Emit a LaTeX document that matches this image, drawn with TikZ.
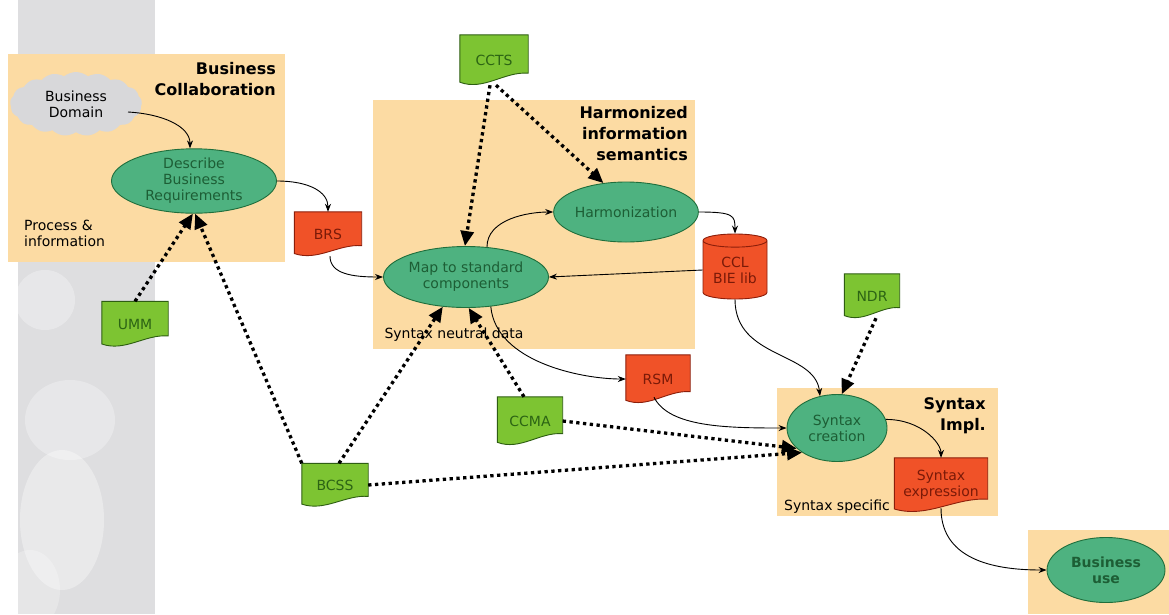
\documentclass[tikz,border=0pt]{standalone}
\usepackage{fontspec}
\setmainfont{DejaVu Sans}
\usetikzlibrary{shapes.geometric,shapes.symbols,arrows.meta}

\pgfdeclarelayer{bg}
\pgfdeclarelayer{docs}
\pgfsetlayers{bg,docs,main}

\definecolor{areafill}{HTML}{FCDBA3}
\definecolor{stripfill}{HTML}{DEDEE0}
\definecolor{cloudfill}{HTML}{D8D8DA}
\definecolor{procfill}{HTML}{4EB280}
\definecolor{procline}{HTML}{1F6E3C}
\definecolor{proctext}{HTML}{1D5E35}
\definecolor{gdocfill}{HTML}{7DC432}
\definecolor{gdocline}{HTML}{2E5E12}
\definecolor{gdoctext}{HTML}{2C6414}
\definecolor{rdocfill}{HTML}{F05228}
\definecolor{rdocline}{HTML}{8C1E0A}
\definecolor{rdoctext}{HTML}{7A1A08}

\newcommand\dgtext{\fontsize{14}{16}\selectfont}
\newcommand\dgtitle{\fontsize{16}{21}\selectfont\bfseries}

\tikzset{
  area/.style={fill=areafill, draw=none},
  proc/.style={ellipse, draw=procline, fill=procfill, line width=0.9pt,
    text=proctext, align=center, inner sep=0pt, font=\dgtext},
  docbox/.style={rectangle, draw=none, align=center, inner sep=0pt, font=\dgtext},
  areatitle/.style={align=right, font=\dgtitle, inner sep=0pt},
  arealabel/.style={font=\dgtext, inner sep=0pt},
  flow/.style={draw=black, line width=0.9pt, -{Stealth[length=8pt,width=6pt]}},
  usage/.style={draw=black, line width=3.3pt, dash pattern=on 3.3pt off 3.5pt,
    -{Triangle[length=15pt,width=13pt]}},
}

% document shape: rectangle with a wavy lower edge
\newcommand\docnode[6]{%
  \node[docbox, minimum width=#3, minimum height=#4, text=#5text] (#1) at (#2) {#6};
  \begin{pgfonlayer}{docs}
    \path[fill=#5fill, draw=#5line, line width=0.9pt]
      (#1.north west) -- (#1.north east) -- ([yshift=0.24*#4]#1.south east)
      .. controls ([xshift=-0.35*#3, yshift=0.28*#4]#1.south east)
              and ([xshift=0.35*#3, yshift=-0.12*#4]#1.south west)
      .. ([yshift=0.06*#4]#1.south west) -- cycle;
  \end{pgfonlayer}
}

\begin{document}
\begin{tikzpicture}[x=1pt,y=-1pt]
\useasboundingbox (0,0) rectangle (1169,614);

% backdrop and areas
\begin{pgfonlayer}{bg}
  \fill[white] (0,0) rectangle (1169,614);
  \fill[stripfill] (18,0) rectangle (155,614);
  \begin{scope}
    \clip (18,0) rectangle (155,614);
    \fill[white, opacity=0.3] (45,300) ellipse (30 and 30);
    \fill[white, opacity=0.3] (70,420) ellipse (45 and 40);
    \fill[white, opacity=0.35] (62,520) ellipse (42 and 70);
    \fill[white, opacity=0.25] (30,590) ellipse (30 and 40);
  \end{scope}
  \fill[area] (8,54) rectangle (285,262);
  \fill[area] (373,100) rectangle (695,349);
  \fill[area] (777,388) rectangle (998,516);
  \fill[area] (1028,530) rectangle (1169,614);
\end{pgfonlayer}

% area titles and labels
\node[areatitle, anchor=north east] (tbc) at (276,62) {Business\\Collaboration};
\node[areatitle, anchor=north east] (this) at (688,106) {Harmonized\\information\\semantics};
\node[areatitle, anchor=north east] (tsi) at (986,397) {Syntax\\Impl.};
\node[arealabel, anchor=north west, align=left] (lpi) at (24,220) {Process \&\\information};
\node[arealabel] (lsn) at (454,335) {Syntax neutral data};
\node[arealabel] (lss) at (837,507) {Syntax specific};

% processes
\node[cloud, cloud puffs=17, cloud puff arc=80, aspect=2, fill=cloudfill, draw=none,
      minimum width=132, minimum height=64, inner sep=0pt, font=\dgtext,
      align=center] (dom) at (76,104) {Business\\Domain};
\node[proc, minimum width=165, minimum height=63] (desc) at (194,181) {Describe\\Business\\Requirements};
\node[proc, minimum width=165, minimum height=61] (map) at (466,277) {Map to standard\\components};
\node[proc, minimum width=118, minimum height=60] (harm) at (626,212) {Harmonization};
\node[proc, minimum width=100, minimum height=67] (synt) at (837,428) {Syntax\\creation};
\node[proc, minimum width=118, minimum height=65, font=\dgtext\bfseries] (buse) at (1106,570) {Business\\use};

% library
\node[cylinder, shape border rotate=90, aspect=0.3, minimum width=64, minimum height=65,
      fill=rdocfill, draw=rdocline, line width=0.9pt, text=rdoctext, align=center,
      inner sep=0pt, font=\dgtext] (ccl) at (735,270) {CCL\\BIE lib};

% documents
\docnode{ccts}{494,60}{68}{50}{gdoc}{CCTS}
\docnode{brs}{328,234}{67}{44}{rdoc}{BRS}
\docnode{umm}{135,324}{66}{45}{gdoc}{UMM}
\docnode{bcss}{335,485}{66}{43}{gdoc}{BCSS}
\docnode{ccma}{530,421}{65}{48}{gdoc}{CCMA}
\docnode{rsm}{658,379}{64}{48}{rdoc}{RSM}
\docnode{ndr}{872,296}{55}{44}{gdoc}{NDR}
\docnode{sexp}{941,485}{93}{54}{rdoc}{Syntax\\expression}

% information flow
\draw[flow] (dom.east) ++(-14,8) .. controls +(35,2) and +(0,-22) .. (desc.97);
\draw[flow] (desc.east) .. controls +(32,0) and +(0,-20) .. (brs.north);
\draw[flow] ([xshift=2]brs.south) .. controls +(0,18) and +(-30,0) .. (map.west);
\draw[flow] (map.55) .. controls +(0,-28) and +(-25,0) .. (harm.west);
\draw[flow] (harm.east) .. controls +(35,0) and +(0,-18) .. (ccl.north);
\draw[flow] (ccl.west) -- (map.east);
\draw[flow] (ccl.south) .. controls +(0,60) and +(-5,-45) .. (synt.118);
\draw[flow] (map.-50) .. controls +(5,55) and +(-45,0) .. (rsm.west);
\draw[flow] ([xshift=-4,yshift=6]rsm.south) .. controls +(15,30) and +(-60,0) .. (synt.west);
\draw[flow] (synt.10) .. controls +(35,0) and +(0,-15) .. (sexp.north);
\draw[flow] ([yshift=4]sexp.south) .. controls +(0,55) and +(-45,0) .. (buse.west);

% usage of specifications
\draw[usage] ([xshift=-4]ccts.south) -- (map.92);
\draw[usage] ([xshift=2]ccts.south) -- (harm.128);
\draw[usage] (umm.north) -- (desc.268);
\draw[usage] (bcss.north west) -- (desc.272);
\draw[usage] ([xshift=4]bcss.north) -- (map.232);
\draw[usage] ([xshift=-6]ccma.north) -- (map.275);
\draw[usage] (ccma.east) -- (synt.207);
\draw[usage] (bcss.east) -- (synt.215);
\draw[usage] ([xshift=4]ndr.south) -- (synt.82);

\end{tikzpicture}
\end{document}
